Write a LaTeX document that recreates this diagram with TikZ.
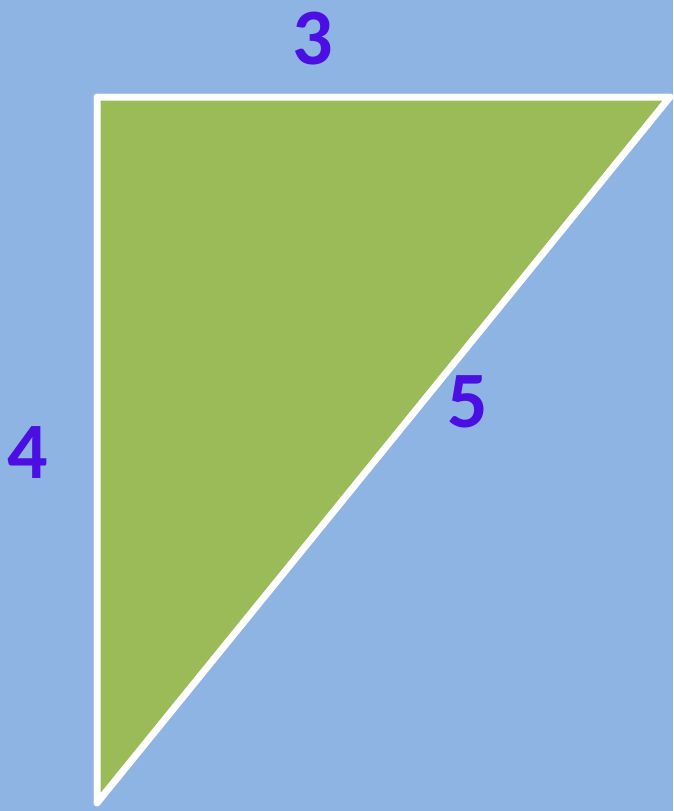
\documentclass[tikz,border=0pt]{standalone}
\usepackage{fontspec}
\setmainfont{Carlito}
\definecolor{skyblue}{RGB}{142,180,227}
\definecolor{leafgreen}{RGB}{155,187,89}
\definecolor{sidepurple}{RGB}{75,15,228}
\tikzset{
    sidelabel/.style={text=sidepurple, font=\fontsize{80}{80}\selectfont\bfseries, inner sep=0pt},
    edge/.style={draw=white, line width=7pt, line join=round, line cap=round}
}
\begin{document}
\begin{tikzpicture}[x=1pt,y=-1pt]
    % Background
    \fill[skyblue] (0,0) rectangle (673,811);
    \useasboundingbox (0,0) rectangle (673,811);

    % Corners of the triangle
    \coordinate (tl) at (97,97);
    \coordinate (tr) at (670,97);
    \coordinate (bl) at (97,803);

    % Soft shadow
    \draw[edge, draw=black, opacity=0.12, shift={(3,3)}] (tl) -- (tr) -- (bl) -- cycle;

    % Triangle
    \filldraw[edge, fill=leafgreen] (tl) -- (tr) -- (bl) -- cycle;

    % Side lengths
    \node[sidelabel] (three) at (313,39) {3};
    \node[sidelabel] (four) at (28,453) {4};
    \node[sidelabel] (five) at (468,402) {5};
\end{tikzpicture}
\end{document}
